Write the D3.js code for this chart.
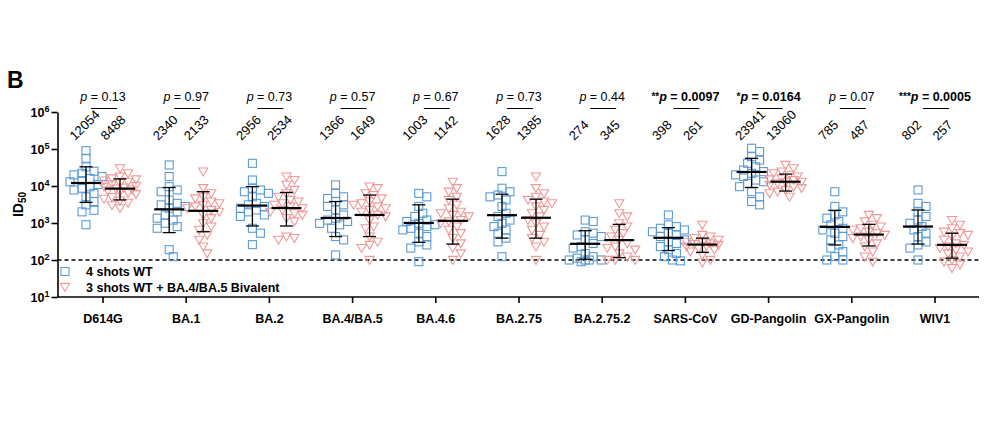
<!DOCTYPE html>
<html>
<head>
<meta charset="utf-8">
<script src="https://cdn.jsdelivr.net/npm/d3@7"></script>
<style>
  body { margin: 0; background: white; }
  text { font-family: "Liberation Sans", Arial, sans-serif; }
</style>
</head>
<body>
<div id="chart"></div>
<script>
const categories = ["D614G", "BA.1", "BA.2", "BA.4/BA.5", "BA.4.6", "BA.2.75", "BA.2.75.2",
                    "SARS-CoV", "GD-Pangolin", "GX-Pangolin", "WIV1"];
const pStars = ["", "", "", "", "", "", "", "**", "*", "", "***"];
const pValues = ["0.13", "0.97", "0.73", "0.57", "0.67", "0.73", "0.44", "0.0097", "0.0164", "0.07", "0.0005"];
const pSignificant = [false, false, false, false, false, false, false, true, true, false, true];

// geometric mean titers (printed labels)
const gmWT  = [12054, 2340, 2956, 1366, 1003, 1628, 274, 398, 23941, 785, 802];
const gmBiv = [8488, 2133, 2534, 1649, 1142, 1385, 345, 261, 13060, 487, 257];

// geometric SD error bars
const errLoWT  = [3600, 550, 830, 430, 300, 390, 105, 180, 9100, 255, 270];
const errHiWT  = [33000, 9100, 9600, 3800, 3100, 6000, 620, 750, 56000, 2200, 2250];
const errLoBiv = [4200, 580, 830, 430, 270, 390, 116, 160, 7300, 240, 112];
const errHiBiv = [15600, 7000, 6700, 5700, 4400, 4400, 920, 390, 21000, 920, 530];

// individual ID50 values, 4 shots WT
const wtValues = [
  [90000, 56000, 33000, 25000, 22000, 20000, 18000, 16000, 14000, 13000, 11000, 9500, 8700, 7800, 6300, 5100, 3800, 3100, 2200, 2000, 900],
  [37000, 18000, 9600, 7800, 7000, 4200, 3400, 3100, 2800, 2500, 2000, 1650, 1350, 1200, 980, 800, 720, 190, 123],
  [41000, 14500, 8700, 7800, 7000, 6300, 5100, 3400, 3100, 2800, 2500, 2250, 2000, 1650, 1500, 720, 530, 260],
  [10700, 6300, 5100, 4600, 3800, 3100, 2800, 2250, 1650, 1350, 1200, 1100, 980, 890, 720, 430, 350, 137],
  [6300, 5100, 2800, 1830, 1500, 1200, 1100, 980, 900, 800, 720, 650, 530, 430, 310, 255, 210, 90],
  [24500, 8700, 7000, 5700, 5100, 4200, 2800, 1830, 1500, 1200, 980, 800, 650, 530, 390, 310, 123],
  [1200, 1100, 580, 530, 475, 430, 350, 280, 230, 210, 150, 123, 112, 100, 100, 100, 100, 90],
  [1650, 890, 800, 720, 650, 580, 530, 475, 430, 350, 310, 280, 230, 190, 150, 123, 100, 95],
  [105000, 85000, 62000, 50000, 41000, 33000, 27000, 24500, 22000, 20000, 18000, 14500, 13000, 11800, 9600, 7000, 5100, 3800, 3100],
  [7000, 2800, 2000, 1650, 1350, 1100, 890, 720, 650, 530, 430, 350, 255, 210, 168, 123, 100, 100],
  [7800, 3400, 2800, 2000, 1500, 1200, 980, 800, 650, 530, 430, 310, 255, 210, 100]
];

// individual ID50 values, 3 shots WT + BA.4/BA.5 bivalent
const bivValues = [
  [30000, 22000, 18000, 16000, 15000, 14000, 13000, 12000, 11000, 10000, 9500, 9000, 8500, 8000, 7500, 7000, 6500, 6000, 5000, 4500, 4000, 3500, 3000, 2500],
  [24500, 8700, 6300, 5100, 4600, 3800, 3400, 3100, 2800, 2500, 2250, 2000, 1650, 1350, 980, 800, 650, 475, 350, 230, 150],
  [18000, 14500, 10700, 7800, 6300, 5100, 4200, 3800, 3400, 3100, 2800, 2500, 2250, 2000, 1830, 1650, 1350, 1100, 430, 390, 350],
  [9600, 8700, 6300, 5700, 4600, 3800, 3400, 3100, 2800, 2500, 2250, 2000, 1650, 1500, 1200, 800, 720, 430, 310, 255, 210, 100],
  [13000, 8700, 7000, 5100, 4200, 3100, 2500, 2000, 1830, 1650, 1500, 1200, 1100, 980, 800, 650, 530, 390, 280, 210, 150, 100],
  [18000, 8700, 6300, 5100, 4200, 3800, 3400, 2800, 2250, 1830, 1500, 1200, 980, 800, 650, 475, 390, 310, 230, 100],
  [3400, 1830, 1500, 980, 800, 650, 530, 430, 350, 280, 230, 210, 190, 150, 123, 100, 100, 100],
  [890, 475, 430, 390, 350, 310, 295, 280, 270, 255, 240, 230, 210, 190, 168, 137, 100, 85],
  [37000, 30000, 24500, 22000, 20000, 18000, 16000, 15000, 14500, 13000, 12500, 11800, 10700, 9600, 8700, 7800, 7000, 6300, 5100],
  [1650, 1350, 1100, 890, 800, 720, 650, 580, 530, 475, 430, 390, 350, 280, 230, 168, 123, 90],
  [1200, 890, 720, 580, 530, 475, 430, 350, 280, 255, 230, 210, 190, 168, 150, 123, 100, 90, 75, 60]
];

const yTicks = [1e1, 1e2, 1e3, 1e4, 1e5, 1e6];
const legendLabels = ["4 shots WT", "3 shots WT + BA.4/BA.5 Bivalent"];

const blue = "#5b9bd5";
const pink = "#f09898";

const width = 991, height = 422;
const svg = d3.select("#chart").append("svg")
    .attr("width", width).attr("height", height);

const x = d3.scaleBand().domain(categories).range([61.4, 976.6]);
const y = d3.scaleLog().domain([10, 1e6]).range([297, 112]);
const cx = c => x(c) + x.bandwidth() / 2;
const axisLeft = 57.5, axisRight = 979;
const sideOff = 17;

// panel letter
svg.append("text").attr("x", 7).attr("y", 88)
    .attr("font-size", 23).attr("font-weight", "bold").text("B");

// y axis
const yAxis = svg.append("g").attr("transform", `translate(${axisLeft},0)`)
    .call(d3.axisLeft(y).tickValues(yTicks).tickFormat("").tickSize(6).tickSizeOuter(0));
yAxis.select(".domain").attr("stroke-width", 1.6);
yAxis.selectAll(".tick line").attr("stroke-width", 1.6);
yAxis.selectAll(".tick").append("text")
    .attr("x", -8).attr("y", 4.5).attr("text-anchor", "end")
    .attr("fill", "black").attr("font-size", 12.5).attr("font-weight", "bold")
    .each(function(d) {
      const t = d3.select(this);
      t.append("tspan").text("10");
      t.append("tspan").attr("dy", -5).attr("font-size", 9).text(Math.round(Math.log10(d)));
    });

// y title
const yt = svg.append("text").attr("transform", `translate(23,${(112 + 297) / 2}) rotate(-90)`)
    .attr("text-anchor", "middle").attr("font-size", 14).attr("font-weight", "bold");
yt.append("tspan").text("ID");
yt.append("tspan").attr("dy", 3).attr("font-size", 10).text("50");

// x axis
const xAxis = svg.append("g").attr("transform", "translate(0,297)")
    .call(d3.axisBottom(x).tickSize(6).tickSizeOuter(0));
xAxis.select(".domain").remove();
xAxis.append("line").attr("x1", axisLeft).attr("x2", axisRight)
    .attr("stroke", "black").attr("stroke-width", 1.6);
xAxis.selectAll(".tick line").attr("stroke-width", 1.6);
xAxis.selectAll(".tick text").attr("y", 17).attr("fill", "black")
    .attr("font-size", 12.5).attr("font-weight", "bold")
    .attr("font-family", "Liberation Sans, Arial, sans-serif");

// limit of detection
svg.append("line").attr("x1", axisLeft).attr("x2", axisRight)
    .attr("y1", y(100)).attr("y2", y(100))
    .attr("stroke", "black").attr("stroke-width", 1.6).attr("stroke-dasharray", "4,3");

// simple deterministic swarm layout
function swarm(vals) {
  const pts = vals.map(v => ({ v: v, py: y(v) })).sort((a, b) => a.py - b.py);
  const placed = [];
  const minD = 7.5;
  const cands = [0, 4, -4, 8, -8, 12, -12, 16, -16];
  pts.forEach(p => {
    let best = 0, bestD = -1;
    for (const o of cands) {
      let md = Infinity;
      placed.forEach(q => { md = Math.min(md, Math.hypot(q.dx - o, q.py - p.py)); });
      if (md >= minD) { best = o; bestD = md; break; }
      if (md > bestD) { bestD = md; best = o; }
    }
    p.dx = best;
    placed.push(p);
  });
  return pts;
}

const tri = "M-4.6,-3.6L4.6,-3.6L0,4.4Z";

categories.forEach((c, i) => {
  const g = svg.append("g");
  const xb = cx(c) - sideOff, xr = cx(c) + sideOff;

  g.selectAll("rect.wt").data(swarm(wtValues[i])).enter().append("rect")
      .attr("x", d => xb + d.dx - 4).attr("y", d => d.py - 4)
      .attr("width", 8).attr("height", 8)
      .attr("fill", "none").attr("stroke", blue).attr("stroke-width", 1.1);

  g.selectAll("path.biv").data(swarm(bivValues[i])).enter().append("path")
      .attr("d", tri).attr("transform", d => `translate(${xr + d.dx},${d.py})`)
      .attr("fill", "none").attr("stroke", pink).attr("stroke-width", 1.1);

  // mean and error bars
  [[xb, gmWT[i], errLoWT[i], errHiWT[i]], [xr, gmBiv[i], errLoBiv[i], errHiBiv[i]]].forEach(s => {
    const [px, gm, lo, hi] = s;
    g.append("line").attr("x1", px).attr("x2", px).attr("y1", y(lo)).attr("y2", y(hi))
        .attr("stroke", "black").attr("stroke-width", 1.3);
    [lo, hi].forEach(v => g.append("line").attr("x1", px - 6.5).attr("x2", px + 6.5)
        .attr("y1", y(v)).attr("y2", y(v)).attr("stroke", "black").attr("stroke-width", 1.3));
    g.append("line").attr("x1", px - 15).attr("x2", px + 15).attr("y1", y(gm)).attr("y2", y(gm))
        .attr("stroke", "black").attr("stroke-width", 2.2);
  });

  // rotated GMT labels
  [[xb - 11, gmWT[i]], [xr - 14, gmBiv[i]]].forEach(s => {
    g.append("text").attr("transform", `translate(${s[0]},141) rotate(-45)`)
        .attr("font-size", 13).text(s[1]);
  });

  // p value and bracket
  const pt = g.append("text").attr("x", cx(c)).attr("y", 101).attr("text-anchor", "middle")
      .attr("font-size", 12.5).attr("font-weight", pSignificant[i] ? "bold" : "normal");
  if (pStars[i]) pt.append("tspan").attr("font-size", 10).attr("dy", -1).text(pStars[i]);
  pt.append("tspan").attr("font-style", "italic").attr("dy", pStars[i] ? 1 : 0).text("p");
  pt.append("tspan").text(" = " + pValues[i]);
  g.append("line").attr("x1", cx(c) - 12).attr("x2", cx(c) + 14).attr("y1", 108.5).attr("y2", 108.5)
      .attr("stroke", "black").attr("stroke-width", 1);
});

// legend
const leg = svg.append("g");
leg.append("rect").attr("x", 61).attr("y", 267.5).attr("width", 8).attr("height", 8)
    .attr("fill", "none").attr("stroke", blue).attr("stroke-width", 1.1);
leg.append("path").attr("d", tri).attr("transform", "translate(65,287)")
    .attr("fill", "none").attr("stroke", pink).attr("stroke-width", 1.1);
legendLabels.forEach((l, k) => {
  leg.append("text").attr("x", 86).attr("y", 276 + k * 16)
      .attr("font-size", 12.5).attr("font-weight", "bold").text(l);
});
</script>
</body>
</html>
